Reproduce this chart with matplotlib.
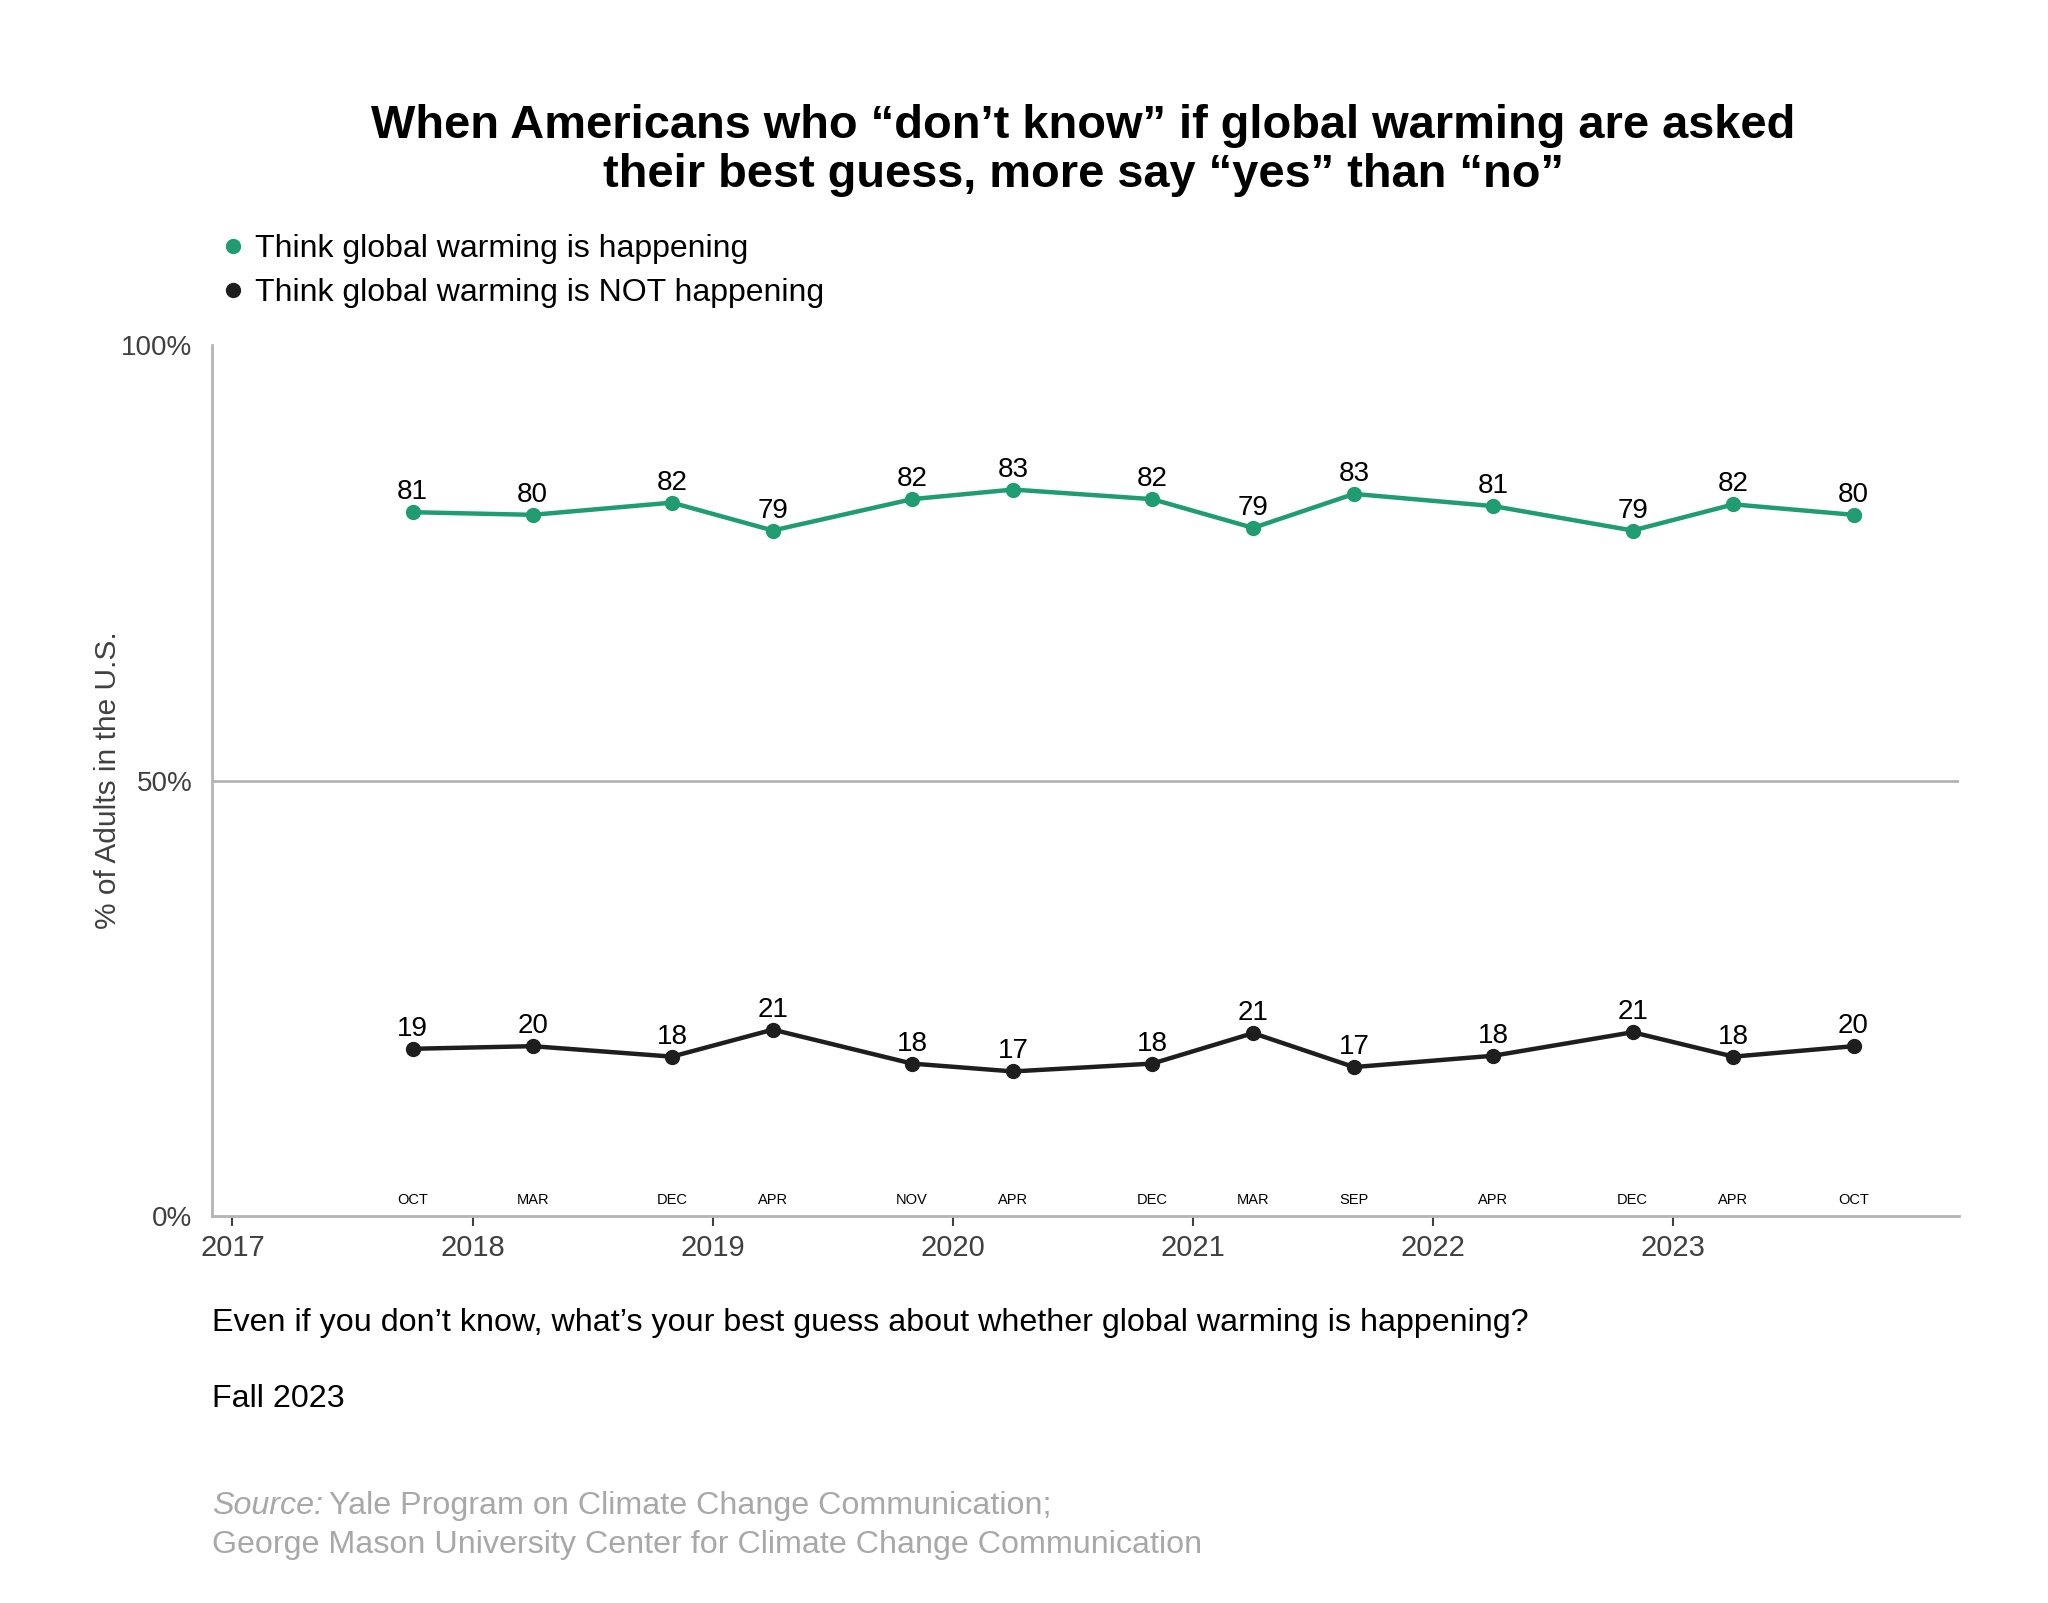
import matplotlib.pyplot as plt
from matplotlib.lines import Line2D

plt.rcParams['font.family'] = ['Liberation Sans', 'DejaVu Sans']

# Data ----------------------------------------------------------------
dates = [2017.75, 2018.25, 2018.83, 2019.25, 2019.83, 2020.25, 2020.83,
         2021.25, 2021.67, 2022.25, 2022.83, 2023.25, 2023.75]
months = ["OCT", "MAR", "DEC", "APR", "NOV", "APR", "DEC",
          "MAR", "SEP", "APR", "DEC", "APR", "OCT"]
happening = [80.8, 80.5, 81.9, 78.7, 82.3, 83.4, 82.3, 79.0, 82.9, 81.5, 78.7, 81.7, 80.5]
happening_lbl = [81, 80, 82, 79, 82, 83, 82, 79, 83, 81, 79, 82, 80]
not_happening = [19.2, 19.5, 18.3, 21.4, 17.5, 16.6, 17.5, 21.0, 17.1, 18.4, 21.1, 18.3, 19.5]
not_happening_lbl = [19, 20, 18, 21, 18, 17, 18, 21, 17, 18, 21, 18, 20]
years = [2017, 2018, 2019, 2020, 2021, 2022, 2023]
series_names = ["Think global warming is happening", "Think global warming is NOT happening"]

green = '#1f9c70'
dark = '#1e1e1e'
grey = '#b4b4b4'

fig = plt.figure(figsize=(20.48, 16.03), dpi=100)
ax = fig.add_axes([0.1033, 0.2414, 0.853, 0.5434])

for vals, lbls, col in [(happening, happening_lbl, green), (not_happening, not_happening_lbl, dark)]:
    ax.plot(dates, vals, color=col, lw=3.2, marker='o', ms=10, zorder=3)
    for x, v, l in zip(dates, vals, lbls):
        ax.annotate(str(l), (x, v), xytext=(0, 5), textcoords='offset points',
                    ha='center', va='bottom', fontsize=20, color='black')

for x, m in zip(dates, months):
    ax.text(x, 1.8, m, ha='center', va='center', fontsize=10.5, color='black')

ax.set_xlim(2016.913, 2024.187)
ax.set_ylim(0, 100)
ax.set_xticks(years)
ax.set_xticklabels([str(y) for y in years])
ax.set_yticks([0, 50, 100])
ax.set_yticklabels(["0%", "50%", "100%"])
ax.axhline(50, color=grey, lw=2, zorder=1)
ax.tick_params(axis='x', length=7, width=1.5, color='#404040', labelsize=21,
               labelcolor='#404040', pad=6)
ax.tick_params(axis='y', length=0, labelsize=20, labelcolor='#404040', pad=14)
for s in ['top', 'right']:
    ax.spines[s].set_visible(False)
for s in ['left', 'bottom']:
    ax.spines[s].set_color(grey)
    ax.spines[s].set_linewidth(2)
ax.set_ylabel("% of Adults in the U.S.", fontsize=21.5, color='#404040', labelpad=-1)

fig.text(0.529, 0.906, "When Americans who \u201cdon\u2019t know\u201d if global warming are asked\n"
         "their best guess, more say \u201cyes\u201d than \u201cno\u201d",
         ha='center', va='center', fontsize=33.8, fontweight='bold', linespacing=1.13)

handles = [Line2D([], [], marker='o', ls='none', color=green, ms=10),
           Line2D([], [], marker='o', ls='none', color=dark, ms=10)]
fig.legend(handles, series_names, loc='upper left', bbox_to_anchor=(0.0995, 0.862),
           frameon=False, fontsize=23, handletextpad=0.2, labelspacing=0.45,
           handlelength=1.0, borderaxespad=0)

fs = 23.2
fig.text(0.1035, 0.1745, "Even if you don\u2019t know, what\u2019s your best guess about whether global warming is happening?",
         ha='left', va='center', fontsize=fs)
fig.text(0.1035, 0.1275, "Fall 2023", ha='left', va='center', fontsize=fs)
src = '#a8a8a8'
t = fig.text(0.1035, 0.0605, "Source:", ha='left', va='center', fontsize=fs, color=src, style='italic')
fig.canvas.draw()
bb = t.get_window_extent()
fig.text(bb.x1 / fig.bbox.width + 0.003, 0.0605, "Yale Program on Climate Change Communication;",
         ha='left', va='center', fontsize=fs, color=src)
fig.text(0.1035, 0.0362, "George Mason University Center for Climate Change Communication",
         ha='left', va='center', fontsize=fs, color=src)

fig.savefig("out.png", dpi=100, facecolor='white')
